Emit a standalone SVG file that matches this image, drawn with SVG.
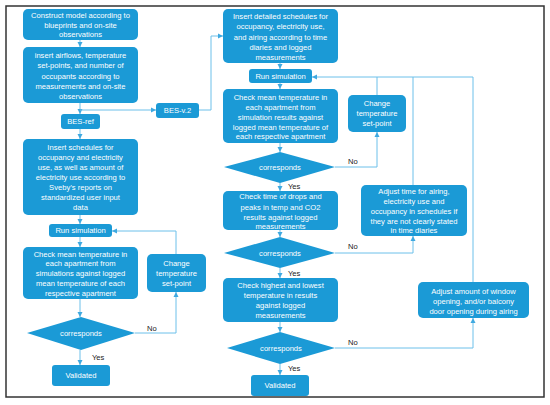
<svg xmlns="http://www.w3.org/2000/svg" width="550" height="405" viewBox="0 0 550 405">
<defs>
<marker id="ah" markerWidth="6" markerHeight="6" refX="5" refY="3" orient="auto" markerUnits="userSpaceOnUse">
<path d="M0,0.5 L5,3 L0,5.5 Z" fill="#3fa9e0"/>
</marker>
</defs>
<style>
.b{fill:#1b9ad6;}
.t{font-family:"Liberation Sans",Arial,sans-serif;font-size:7.6px;fill:#ffffff;text-anchor:middle;}
.l{font-family:"Liberation Sans",Arial,sans-serif;font-size:7.6px;fill:#222222;}
.c{fill:none;stroke:#6cc0ea;stroke-width:1;marker-end:url(#ah);}
.n{fill:none;stroke:#6cc0ea;stroke-width:1;}
</style>
<rect x="0" y="0" width="550" height="405" fill="#ffffff"/>
<rect x="6" y="6" width="538" height="391" fill="none" stroke="#333333" stroke-width="1.5"/>

<g id="connectors">
<path class="c" d="M80,40 V47"/>
<path class="c" d="M80,103 V114"/>
<path class="c" d="M80,110 H156"/>
<path class="c" d="M80,129 V139"/>
<path class="c" d="M80,215 V224"/>
<path class="c" d="M80,237 V247"/>
<path class="c" d="M80,299 V317"/>
<path class="c" d="M80,350 V365"/>
<path class="c" d="M135,333 H176 V292"/>
<path class="c" d="M176,254 V231 H112"/>
<path class="c" d="M199,110 H211 V36 H223"/>
<path class="c" d="M280,63 V69"/>
<path class="c" d="M280,83 V89"/>
<path class="c" d="M280,143 V152"/>
<path class="c" d="M280,183 V191"/>
<path class="c" d="M280,230 V237"/>
<path class="c" d="M280,268 V278"/>
<path class="c" d="M280,322 V332"/>
<path class="c" d="M280,364 V375"/>
<path class="c" d="M335,167 H377 V132"/>
<path class="c" d="M335,253 H413 V236"/>
<path class="c" d="M335,348 H473 V318"/>
<path class="n" d="M377,95 V77"/>
<path class="n" d="M413,185 V77"/>
<path class="c" d="M473,282 V77 H312"/>
<text class="l" x="92" y="360">Yes</text>
<text class="l" x="147" y="331">No</text>
<text class="l" x="288" y="189">Yes</text>
<text class="l" x="288" y="276">Yes</text>
<text class="l" x="288" y="371">Yes</text>
<text class="l" x="348" y="164">No</text>
<text class="l" x="348" y="249">No</text>
<text class="l" x="348" y="345">No</text>
</g>

<g id="n1"><rect class="b" x="23" y="9" width="115" height="31" rx="5"/>
<text class="t" x="80.5"><tspan x="80.5" y="17.5">Construct model according to</tspan><tspan x="80.5" y="27.5">blueprints and on-site</tspan><tspan x="80.5" y="37">observations</tspan></text></g>

<g id="n2"><rect class="b" x="23" y="47" width="115" height="56" rx="5"/>
<text class="t"><tspan x="80.5" y="57.5">insert airflows, temperature</tspan><tspan x="80.5" y="67.5">set-points, and number of</tspan><tspan x="80.5" y="78.5">occupants according to</tspan><tspan x="80.5" y="88.5">measurements and on-site</tspan><tspan x="80.5" y="98.5">observations</tspan></text></g>

<g id="n3"><rect class="b" x="61" y="114" width="39" height="15" rx="3"/>
<text class="t" x="80.5" y="124">BES-ref</text></g>

<g id="n4"><rect class="b" x="156" y="103" width="43" height="15" rx="3"/>
<text class="t" x="177.5" y="113">BES-v.2</text></g>

<g id="n5"><rect class="b" x="23" y="139" width="115" height="76" rx="5"/>
<text class="t"><tspan x="80.5" y="149.5">Insert schedules for</tspan><tspan x="80.5" y="159.5">occupancy and electricity</tspan><tspan x="80.5" y="169.5">use, as well as amount of</tspan><tspan x="80.5" y="179.5">electricity use according to</tspan><tspan x="80.5" y="189.5">Sveby’s reports on</tspan><tspan x="80.5" y="199.5">standardized user input</tspan><tspan x="80.5" y="209.5">data</tspan></text></g>

<g id="n6"><rect class="b" x="49" y="224" width="63" height="13" rx="3"/>
<text class="t" x="80.5" y="233">Run simulation</text></g>

<g id="n7"><rect class="b" x="23" y="247" width="115" height="52" rx="5"/>
<text class="t"><tspan x="80.5" y="256.5">Check mean temperature in</tspan><tspan x="80.5" y="266">each apartment from</tspan><tspan x="80.5" y="275.5">simulations against logged</tspan><tspan x="80.5" y="285.5">mean temperature of each</tspan><tspan x="80.5" y="295.5">respective apartment</tspan></text></g>

<g id="n8"><polygon class="b" points="27,333 81,317 135,333 81,350"/>
<text class="t" x="81" y="336">corresponds</text></g>

<g id="n9"><rect class="b" x="52" y="365" width="58" height="21" rx="3"/>
<text class="t" x="81" y="378">Validated</text></g>

<g id="n10"><rect class="b" x="147" y="254" width="59" height="38" rx="5"/>
<text class="t"><tspan x="176.5" y="265.5">Change</tspan><tspan x="176.5" y="275.5">temperature</tspan><tspan x="176.5" y="285.5">set-point</tspan></text></g>

<g id="n11"><rect class="b" x="223" y="9" width="115" height="54" rx="5"/>
<text class="t"><tspan x="280.5" y="18.5">Insert detailed schedules for</tspan><tspan x="280.5" y="28.5">occupancy, electricity use,</tspan><tspan x="280.5" y="39.5">and airing according to time</tspan><tspan x="280.5" y="49.5">diaries and logged</tspan><tspan x="280.5" y="59.5">measurements</tspan></text></g>

<g id="n12"><rect class="b" x="249" y="69" width="63" height="14" rx="3"/>
<text class="t" x="280.5" y="78.5">Run simulation</text></g>

<g id="n13"><rect class="b" x="223" y="89" width="115" height="54" rx="5"/>
<text class="t"><tspan x="280.5" y="99.5">Check mean temperature in</tspan><tspan x="280.5" y="109.5">each apartment from</tspan><tspan x="280.5" y="119.5">simulation results against</tspan><tspan x="280.5" y="129.5">logged mean temperature of</tspan><tspan x="280.5" y="138.5">each respective apartment</tspan></text></g>

<g id="n14"><polygon class="b" points="224,167 280,152 335,167 280,183"/>
<text class="t" x="280" y="170">corresponds</text></g>

<g id="n15"><rect class="b" x="223" y="191" width="115" height="39" rx="5"/>
<text class="t"><tspan x="280.5" y="198.5">Check time of drops and</tspan><tspan x="280.5" y="209.5">peaks in temp and CO2</tspan><tspan x="280.5" y="219.5">results against logged</tspan><tspan x="280.5" y="229">measurements</tspan></text></g>

<g id="n16"><polygon class="b" points="224,253 280,237 335,253 280,268"/>
<text class="t" x="280" y="256">corresponds</text></g>

<g id="n17"><rect class="b" x="223" y="278" width="115" height="44" rx="5"/>
<text class="t"><tspan x="280.5" y="287.5">Check highest and lowest</tspan><tspan x="280.5" y="297.5">temperature in results</tspan><tspan x="280.5" y="307.5">against logged</tspan><tspan x="280.5" y="317.5">measurements</tspan></text></g>

<g id="n18"><polygon class="b" points="227,348 280,332 335,348 280,364"/>
<text class="t" x="281" y="351">corresponds</text></g>

<g id="n19"><rect class="b" x="251" y="375" width="58" height="21" rx="3"/>
<text class="t" x="280" y="388">Validated</text></g>

<g id="n20"><rect class="b" x="348" y="95" width="58" height="37" rx="5"/>
<text class="t"><tspan x="377" y="105.5">Change</tspan><tspan x="377" y="115.5">temperature</tspan><tspan x="377" y="125.5">set-point</tspan></text></g>

<g id="n21"><rect class="b" x="361" y="185" width="106" height="51" rx="5"/>
<text class="t"><tspan x="414" y="193.5">Adjust time for airing,</tspan><tspan x="414" y="203.5">electricity use and</tspan><tspan x="414" y="213.5">occupancy in schedules if</tspan><tspan x="414" y="223.5">they are not clearly stated</tspan><tspan x="414" y="232.5">in time diaries</tspan></text></g>

<g id="n22"><rect class="b" x="418" y="282" width="111" height="36" rx="5"/>
<text class="t"><tspan x="473.5" y="293.5">Adjust amount of window</tspan><tspan x="473.5" y="303.5">opening, and/or balcony</tspan><tspan x="473.5" y="313.5">door opening during airing</tspan></text></g>
</svg>
